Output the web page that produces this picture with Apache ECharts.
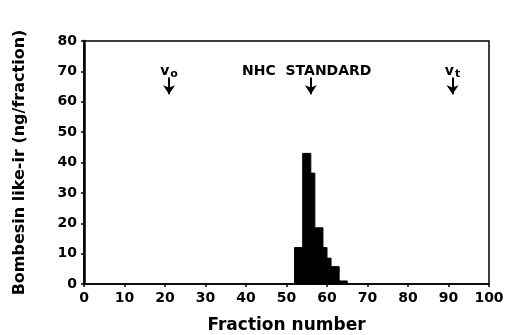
<!DOCTYPE html>
<html>
<head>
<meta charset="utf-8">
<script src="https://cdn.jsdelivr.net/npm/echarts@6/dist/echarts.min.js"></script>
<style>html,body{margin:0;padding:0;background:#fff}#c{width:505px;height:335px}</style>
</head>
<body>
<div id="c"></div>
<script>
// Fraction number (left edge of each 1-fraction bin) and bombesin-like immunoreactivity (ng/fraction)
const fractions = [52, 53, 54, 55, 56, 57, 58, 59, 60, 61, 62, 63, 64];
const values    = [12, 12, 43, 43, 36.5, 18.5, 18.5, 12, 8.5, 5.7, 5.7, 1, 1];
const binWidth = 1;

const xTicks = [0, 10, 20, 30, 40, 50, 60, 70, 80, 90, 100];
const yTicks = [0, 10, 20, 30, 40, 50, 60, 70, 80];

// Elution markers
const markerLabels = ['v{s|o}', 'NHC  STANDARD', 'v{s|t}'];
const markerTextX  = [21, 55, 91];
const markerX      = [21, 56, 91];
const markerTextY  = 70;
const arrowTop     = 68;
const arrowBottom  = 62.5;

const FONT = 'DejaVu Sans';
const chart = echarts.init(document.getElementById('c'), null, {renderer: 'canvas'});

const seriesData = fractions.map((f, i) => [f, values[i]]);

chart.setOption({
  backgroundColor: '#fff',
  animation: false,
  grid: {left: 84, right: 16, top: 41, bottom: 51, show: true, borderColor: '#000', borderWidth: 1.5,
         containLabel: false, outerBoundsMode: 'none'},
  xAxis: {
    type: 'value', min: xTicks[0], max: xTicks[xTicks.length - 1], interval: 10,
    name: 'Fraction number', nameLocation: 'middle', nameGap: 33,
    nameTextStyle: {fontFamily: FONT, fontWeight: 'bold', fontSize: 17, color: '#000'},
    axisLine: {show: true, lineStyle: {color: '#000', width: 1.5}},
    axisTick: {show: true, length: 3, lineStyle: {color: '#000', width: 1.5}},
    splitLine: {show: false},
    axisLabel: {fontFamily: FONT, fontWeight: 'bold', fontSize: 14, color: '#000', margin: 7}
  },
  yAxis: {
    type: 'value', min: yTicks[0], max: yTicks[yTicks.length - 1], interval: 10,
    name: 'Bombesin like-ir (ng/fraction)', nameLocation: 'middle', nameGap: 56, nameRotate: 90,
    nameTextStyle: {fontFamily: FONT, fontWeight: 'bold', fontSize: 16, color: '#000'},
    axisLine: {show: true, lineStyle: {color: '#000', width: 2.5}},
    axisTick: {show: true, length: 3, lineStyle: {color: '#000', width: 1.5}},
    splitLine: {show: false},
    axisLabel: {fontFamily: FONT, fontWeight: 'bold', fontSize: 14, color: '#000', margin: 7}
  },
  series: [
    {
      type: 'custom',
      data: seriesData,
      encode: {x: 0, y: 1},
      renderItem: function (params, api) {
        const x0 = api.value(0), y = api.value(1);
        const p0 = api.coord([x0, 0]);
        const p1 = api.coord([x0 + binWidth, y]);
        return {
          type: 'rect',
          shape: {x: p0[0], y: p1[1], width: p1[0] - p0[0], height: p0[1] - p1[1]},
          style: {fill: '#000', stroke: '#000', lineWidth: 1}
        };
      }
    },
    {
      type: 'line',
      data: [],
      silent: true,
      markPoint: {
        symbol: 'circle', symbolSize: 0,
        label: {
          show: true, position: 'inside', color: '#000',
          fontFamily: FONT, fontWeight: 'bold', fontSize: 14,
          rich: {s: {fontFamily: FONT, fontWeight: 'bold', fontSize: 11, padding: [6, 0, 0, 1]}}
        },
        data: markerLabels.map((t, i) => ({coord: [markerTextX[i], markerTextY], label: {formatter: t}}))
      },
      markLine: {
        symbol: ['none', 'arrow'], symbolSize: [9, 9],
        label: {show: false},
        lineStyle: {color: '#000', width: 2, type: 'solid'},
        data: markerX.map(x => [{coord: [x, arrowTop]}, {coord: [x, arrowBottom]}])
      }
    }
  ]
});
</script>
</body>
</html>
